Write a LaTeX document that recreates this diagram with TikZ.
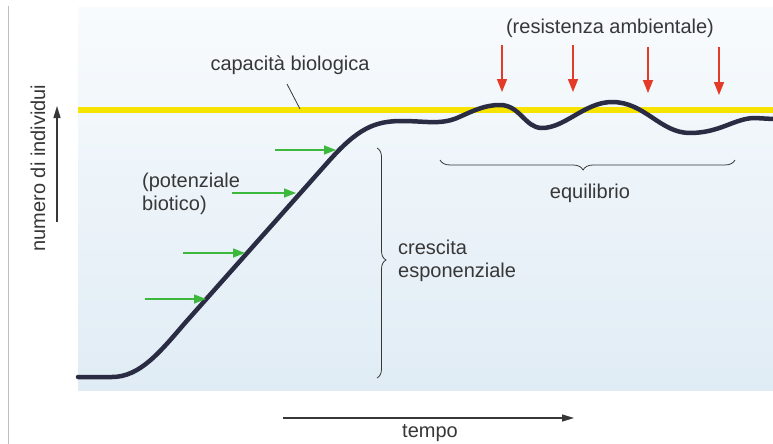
\documentclass[tikz,border=0pt]{standalone}
\usepackage{fontspec}
\setmainfont{Liberation Sans}
\usetikzlibrary{arrows.meta,decorations.pathreplacing}
\definecolor{panelTop}{RGB}{248,251,253}
\definecolor{panelMid}{RGB}{232,241,248}
\definecolor{panelBot}{RGB}{224,236,245}
\definecolor{curveC}{RGB}{42,44,68}
\definecolor{capY}{RGB}{246,228,0}
\definecolor{redA}{RGB}{228,58,40}
\definecolor{greenA}{RGB}{60,185,60}
\definecolor{txt}{RGB}{55,55,55}
\definecolor{frameC}{RGB}{190,190,190}
\begin{document}
\begin{tikzpicture}[x=1pt,y=-1pt,
  lbl/.style={text=txt, font=\fontsize{20}{23}\selectfont, inner sep=0pt},
  redarrow/.style={draw=redA, line width=1.6pt, -{Triangle[length=13pt,width=10pt]}},
  greenarrow/.style={draw=greenA, line width=1.4pt, -{Triangle[length=12pt,width=9pt]}},
  axisarrow/.style={draw=txt, line width=1.3pt, -{Triangle[length=12pt,width=7pt]}},
  bracestyle/.style={draw=txt, line width=0.8pt, decorate},
]
\useasboundingbox (0,0) rectangle (773,444);
\fill[white] (0,0) rectangle (773,444);
% background panel
\shade[top color=panelTop, middle color=panelMid, bottom color=panelBot] (78,8) rectangle (773,390);
% left frame line
\draw[frameC, line width=0.8pt] (8,6) -- (8,444);

% carrying capacity line
\coordinate (capL) at (78,110);
\coordinate (capR) at (773,110);
\draw[capY, line width=6pt] (capL) -- (capR);

% population curve
\draw[curveC, line width=4.5pt, line cap=round, line join=round]
  (78,377) -- (112,377)
  .. controls (140,377) and (160,352) .. (185,323)
  -- (328,162)
  .. controls (358,128) and (375,121) .. (402,121)
  .. controls (425,121) and (440,125) .. (457,118)
  .. controls (475,110) and (485,105) .. (500,105)
  .. controls (520,105) and (525,128) .. (542,128)
  .. controls (565,128) and (585,102) .. (612,102)
  .. controls (645,102) and (660,133) .. (690,133)
  .. controls (720,133) and (735,118) .. (755,118)
  -- (773,119);

% labels
\node[lbl] (cap) at (290,65) {capacità biologica};
\coordinate (leadA) at (287,84);
\coordinate (leadB) at (300,109);
\draw[txt, line width=0.8pt] (leadA) -- (leadB);

\node[lbl] (res) at (610,28) {(resistenza ambientale)};
\node[lbl] (eq) at (590,193) {equilibrio};
\node[lbl, align=left, anchor=west] (cresc) at (398,261) {crescita\\esponenziale};
\node[lbl, align=left, anchor=west] (pot) at (142,194) {(potenziale\\biotico)};
\node[lbl, rotate=90] (yl) at (38,168) {numero di individui};
\node[lbl] (tl) at (430,433) {tempo};

% red arrows
\foreach \i/\x/\ya/\yb in {1/502/45/92, 2/573/45/92, 3/648/47/93, 4/719/47/95}{
  \coordinate (r\i a) at (\x,\ya);
  \coordinate (r\i b) at (\x,\yb);
  \draw[redarrow] (r\i a) -- (r\i b);
}

% green arrows
\foreach \i/\xa/\xb/\y in {1/275/336/150, 2/232/296/193, 3/183/245/253, 4/145/206/299}{
  \coordinate (g\i a) at (\xa,\y);
  \coordinate (g\i b) at (\xb,\y);
  \draw[greenarrow] (g\i a) -- (g\i b);
}

% axes
\coordinate (ya) at (57,222);
\coordinate (yb) at (57,106);
\draw[axisarrow] (ya) -- (yb);
\coordinate (xa) at (283,418);
\coordinate (xb) at (574,418);
\draw[axisarrow, line width=1.2pt] (xa) -- (xb);

% braces
\coordinate (bvT) at (377,148);
\coordinate (bvB) at (377,378);
\draw[bracestyle, decoration={brace, amplitude=9pt, aspect=0.487}] (bvT) -- (bvB);
\coordinate (bhR) at (735,160);
\coordinate (bhL) at (440,160);
\draw[bracestyle, decoration={brace, amplitude=10pt, aspect=0.515}] (bhR) -- (bhL);
\end{tikzpicture}
\end{document}
